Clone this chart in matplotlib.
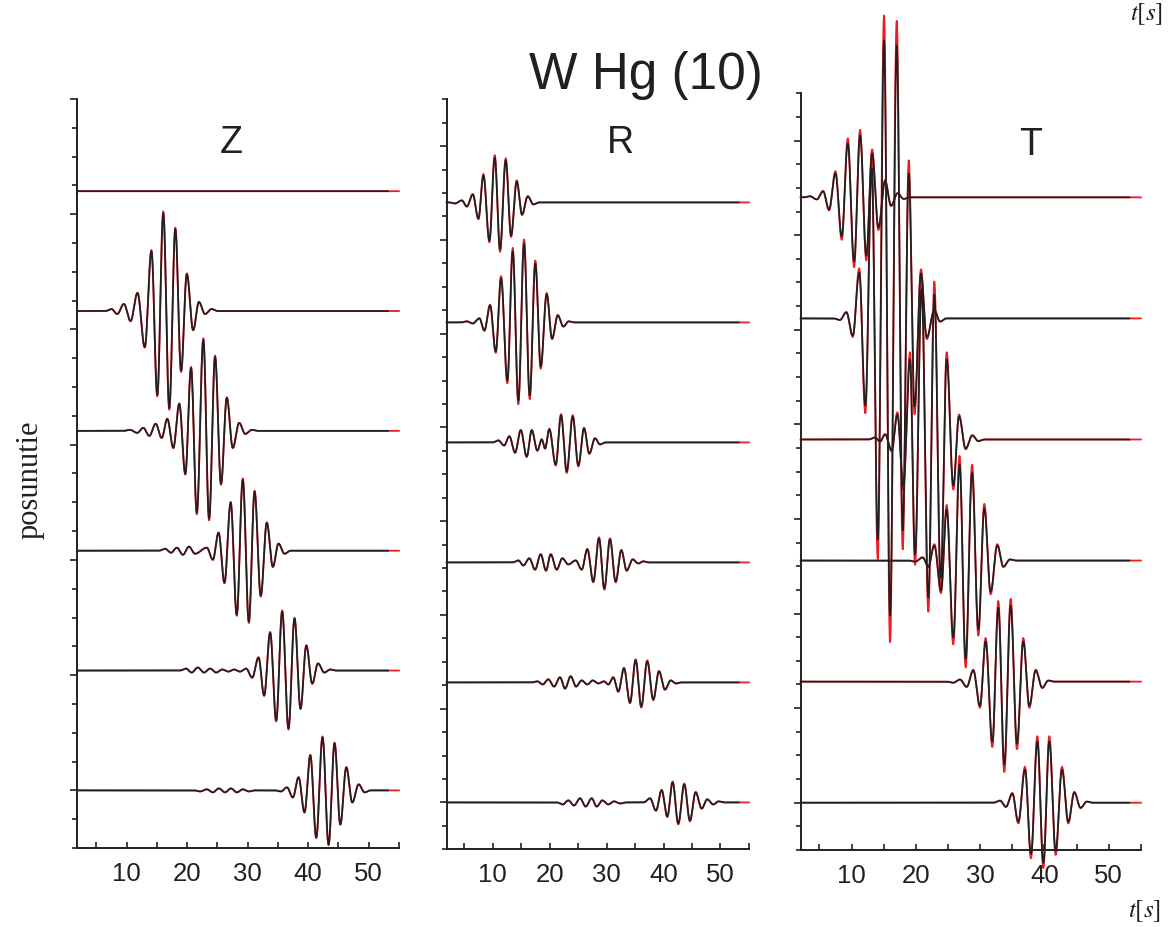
import numpy as np
import matplotlib
matplotlib.use("Agg")
import matplotlib.pyplot as plt
from matplotlib.ticker import MultipleLocator, NullFormatter

plt.rcParams['font.family'] = ['Liberation Sans', 'DejaVu Sans']
plt.rcParams['mathtext.fontset'] = 'stix'

# ------------------------------------------------------------------
# Seismogram data: for every trace (top trace first) the times [s] of
# its successive extrema and the displacement at each of them.
# ------------------------------------------------------------------
Z_OFFSETS = [5.20, 4.16, 3.12, 2.08, 1.04, 0.0]
Z_TIMES = [
    [],
    [7.5, 8.45, 9.55, 10.65, 11.8, 13.0, 14.1, 15.07, 16.06, 17.05, 18.05, 19.0,
     19.95, 21.0, 21.95, 22.95, 24.05],
    [10.55, 11.75, 12.75, 13.75, 14.8, 15.8, 16.72, 17.72, 18.7, 19.7, 20.65, 21.6,
     22.68, 23.63, 24.62, 25.6, 26.56, 27.55, 28.6, 29.6, 30.7],
    [16.35, 17.35, 18.3, 19.3, 20.3, 21.3, 23.25, 24.25, 25.2, 26.17, 27.2, 28.2,
     29.2, 30.2, 31.15, 32.17, 33.17, 34.17, 35.1, 36.1],
    [19.8, 20.75, 21.75, 22.8, 23.8, 24.8, 25.8, 26.8, 27.75, 28.75, 29.75, 30.75,
     31.8, 32.73, 33.72, 34.72, 35.71, 36.75, 37.75, 38.74, 39.7, 40.68, 41.63,
     42.67, 43.66],
    [22.15, 23.25, 24.25, 25.25, 26.25, 27.25, 28.2, 29.2, 30.2, 31.2, 34.6, 35.5,
     36.5, 37.48, 38.42, 39.4, 40.36, 41.34, 42.38, 43.38, 44.37, 45.32, 46.31,
     47.3, 48.34, 49.34],
]
Z_AMPS = [
    [],
    [0.017, -0.026, 0.061, -0.087, 0.156, -0.312, 0.519, -0.727, 0.848, -0.840,
     0.710, -0.519, 0.320, -0.165, 0.078, -0.026, 0.017],
    [0.009, -0.017, 0.026, -0.043, 0.061, -0.061, 0.104, -0.147, 0.234, -0.372,
     0.545, -0.710, 0.788, -0.762, 0.641, -0.459, 0.286, -0.147, 0.069, -0.026,
     0.009],
    [0.017, -0.017, 0.026, -0.035, 0.035, -0.026, 0.026, -0.078, 0.156, -0.277,
     0.416, -0.554, 0.615, -0.615, 0.511, -0.390, 0.242, -0.139, 0.061, -0.026],
    [0.017, -0.017, 0.026, -0.017, 0.017, -0.017, 0.009, -0.009, 0.009, -0.009,
     0.017, -0.061, 0.113, -0.216, 0.329, -0.433, 0.511, -0.502, 0.450, -0.329,
     0.216, -0.113, 0.061, -0.017, 0.009],
    [-0.009, 0.009, -0.017, 0.017, -0.017, 0.017, -0.017, 0.009, -0.009, 0.0, 0.0,
     -0.009, 0.026, -0.061, 0.113, -0.190, 0.303, -0.407, 0.459, -0.468, 0.407,
     -0.294, 0.199, -0.104, 0.052, -0.017],
]

R_OFFSETS = [6.40, 5.12, 3.84, 2.56, 1.28, 0.0]
R_TIMES = [
    [3.37, 4.55, 5.43, 6.48, 7.47, 8.35, 9.4, 10.34, 11.27, 12.27, 13.21, 14.2,
     15.14, 16.14, 17.12],
    [5.43, 6.48, 7.64, 8.52, 9.52, 10.52, 11.45, 12.56, 13.5, 14.49, 15.49, 16.49,
     17.47, 18.42, 19.47, 20.41, 21.41, 22.39, 23.34],
    [10.98, 11.98, 12.91, 13.91, 14.91, 15.96, 16.84, 17.83, 18.6, 19.18, 19.93,
     21.06, 21.99, 22.99, 24.04, 25.03, 26.03, 26.96, 27.96, 28.84],
    [14.49, 15.37, 16.42, 17.42, 18.42, 19.35, 20.18, 21.23, 22.22, 23.27, 24.57,
     25.62, 26.61, 27.66, 28.66, 29.6, 30.59, 31.59, 32.58, 33.52, 34.58, 35.56,
     36.44],
    [17.83, 18.77, 19.76, 20.76, 21.81, 22.69, 23.69, 24.62, 25.62, 26.61, 27.55,
     28.54, 29.54, 30.3, 31.17, 32.05, 33.05, 34.11, 35.1, 36.09, 37.14, 38.2,
     39.2, 40.25, 41.25, 42.18],
    [22.28, 23.27, 24.27, 25.32, 26.32, 27.38, 28.26, 29.24, 30.3, 31.3, 32.35,
     33.5, 36.5, 37.62, 38.67, 39.67, 40.66, 41.6, 42.59, 43.64, 44.64, 45.64,
     46.7, 47.68, 48.74, 49.68],
]
R_AMPS = [
    [-0.011, 0.021, -0.043, 0.085, -0.171, 0.288, -0.406, 0.480, -0.502, 0.448,
     -0.352, 0.224, -0.128, 0.064, -0.021],
    [0.011, -0.011, 0.043, -0.085, 0.181, -0.309, 0.470, -0.619, 0.758, -0.832,
     0.843, -0.779, 0.630, -0.470, 0.299, -0.171, 0.075, -0.043, 0.011],
    [0.021, -0.032, 0.064, -0.107, 0.128, -0.149, 0.128, -0.085, 0.032, -0.064,
     0.139, -0.235, 0.288, -0.309, 0.277, -0.245, 0.149, -0.117, 0.043, -0.021],
    [0.021, -0.032, 0.043, -0.075, 0.085, -0.085, 0.085, -0.075, 0.043, -0.021,
     0.021, -0.075, 0.139, -0.203, 0.256, -0.277, 0.245, -0.203, 0.128, -0.085,
     0.032, -0.011, 0.011],
    [0.011, -0.021, 0.032, -0.043, 0.053, -0.064, 0.064, -0.043, 0.021, -0.021,
     0.021, -0.011, 0.011, -0.021, 0.053, -0.096, 0.149, -0.213, 0.235, -0.256,
     0.224, -0.181, 0.117, -0.075, 0.021, -0.011],
    [-0.021, 0.021, -0.032, 0.043, -0.043, 0.043, -0.043, 0.021, -0.021, 0.011,
     -0.011, 0.0, 0.0, 0.043, -0.085, 0.128, -0.149, 0.213, -0.224, 0.192, -0.192,
     0.107, -0.064, 0.032, -0.021, 0.011],
]

T_OFFSETS = [6.40, 5.12, 3.84, 2.56, 1.28, 0.0]
T_TIMES = [
    [3.56, 4.6, 5.58, 6.51, 7.5, 8.48, 9.42, 10.4, 11.33, 12.3, 13.2, 14.18, 15.22,
     16.15, 17.16, 18.1],
    [8.2, 9.2, 10.2, 11.2, 12.15, 13.15, 14.08, 15.06, 15.99, 17.03, 17.96, 18.9,
     19.8, 20.8, 21.7, 22.88, 23.77],
    [13.66, 14.44, 15.22, 16.25, 17.13, 18.06, 19.1, 19.88, 20.9, 21.95, 22.88,
     23.87, 24.8, 25.83, 26.72, 27.75, 28.78, 29.7],
    [19.9, 21.07, 21.95, 22.88, 23.92, 24.8, 25.83, 26.8, 27.75, 28.75, 29.72,
     30.65, 31.64, 32.67, 33.61, 34.64],
    [25.83, 26.87, 27.91, 28.94, 29.98, 30.86, 31.9, 32.83, 33.76, 34.75, 35.73,
     36.71, 37.65, 38.64, 39.67, 40.6],
    [33.09, 34.02, 35.01, 35.94, 36.98, 37.91, 38.9, 39.83, 40.76, 41.75, 42.73,
     43.71, 44.64, 45.63, 46.57],
]
T_AMPS = [
    [0.011, -0.021, 0.063, -0.127, 0.254, -0.412, 0.571, -0.677, 0.655, -0.613,
     0.465, -0.317, 0.169, -0.085, 0.042, -0.016],
    [-0.016, 0.063, -0.180, 0.486, -0.920, 1.586, -2.336, 2.939, -3.140, 2.886,
     -2.241, 1.533, -0.930, 0.476, -0.201, 0.085, -0.032],
    [0.021, -0.021, 0.053, -0.116, 0.264, -0.486, 0.846, -1.216, 1.586, -1.670,
     1.533, -1.459, 0.846, -0.486, 0.243, -0.095, 0.042, -0.016],
    [-0.011, 0.032, -0.063, 0.159, -0.317, 0.539, -0.814, 1.015, -1.036, 0.930,
     -0.729, 0.550, -0.328, 0.159, -0.063, 0.011],
    [-0.011, 0.021, -0.053, 0.116, -0.254, 0.423, -0.634, 0.782, -0.877, 0.803,
     -0.655, 0.423, -0.254, 0.116, -0.063, 0.011],
    [0.021, -0.042, 0.095, -0.201, 0.349, -0.539, 0.645, -0.634, 0.645, -0.507,
     0.349, -0.201, 0.106, -0.053, 0.011],
]

# reference (red) record relative to the synthetic (black) one
RED_GAIN = {'Z': 1.02, 'R': 1.05, 'T': 1.09}
SYN_END = 53.2   # end of the synthetic record [s]
REF_END = 55.0   # end of the reference record [s]

RED = '#ec1c24'
BLACK = '#231f20'


def trace(t, times, amps, lead=1.0):
    """Smooth wiggle passing through the given extrema (half-cosine links)."""
    y = np.zeros_like(t)
    if len(times) == 0:
        return y
    tk = np.concatenate([[times[0] - lead], times, [times[-1] + lead]])
    ak = np.concatenate([[0.0], amps, [0.0]])
    for i in range(len(tk) - 1):
        m = (t >= tk[i]) & (t <= tk[i + 1])
        ph = (t[m] - tk[i]) / (tk[i + 1] - tk[i])
        y[m] = ak[i + 1] + (ak[i] - ak[i + 1]) * (1 + np.cos(np.pi * ph)) / 2
    return y


W, H = 1172, 927
fig = plt.figure(figsize=(W / 100, H / 100), dpi=100)


def px_axes(left, top, right, bottom):
    return fig.add_axes([left / W, 1 - bottom / H, (right - left) / W,
                         (bottom - top) / H])


panels = [
    ('Z', px_axes(77, 99, 399, 848), (1.8, 55.02), (-0.5, 6.0),
     Z_OFFSETS, Z_TIMES, Z_AMPS),
    ('R', px_axes(446.7, 99.3, 749, 849.3), (1.9, 55.02), (-0.5, 7.5),
     R_OFFSETS, R_TIMES, R_AMPS),
    ('T', px_axes(800.7, 93.3, 1141, 850), (2.1, 55.02), (-0.5, 7.5),
     T_OFFSETS, T_TIMES, T_AMPS),
]

for name, ax, xl, yl, offs, times, amps in panels:
    t_ref = np.linspace(xl[0], REF_END, 6000)
    t_syn = np.linspace(xl[0], SYN_END, 6000)
    for off, tt, aa in zip(offs, times, amps):
        aa = np.asarray(aa, float)
        tt = np.asarray(tt, float)
        ax.plot(t_ref, off + RED_GAIN[name] * trace(t_ref, tt, aa),
                color=RED, lw=1.3, clip_on=False, zorder=2)
        ax.plot(t_syn, off + trace(t_syn, tt, aa),
                color=BLACK, lw=1.25, clip_on=False, zorder=3)

    ax.set_xlim(*xl)
    ax.set_ylim(*yl)
    for s in ('top', 'right'):
        ax.spines[s].set_visible(False)
    for s in ('left', 'bottom'):
        ax.spines[s].set_linewidth(1.4)
        ax.spines[s].set_color(BLACK)
    ax.xaxis.set_major_locator(MultipleLocator(10))
    ax.xaxis.set_minor_locator(MultipleLocator(5))
    ax.yaxis.set_major_locator(MultipleLocator(1))
    ax.yaxis.set_minor_locator(MultipleLocator(0.25))
    ax.yaxis.set_major_formatter(NullFormatter())
    ax.tick_params(axis='x', which='both', direction='in', width=1.2,
                   color=BLACK, labelsize=18.5, pad=10, labelcolor=BLACK)
    ax.tick_params(axis='x', which='major', length=4)
    ax.tick_params(axis='x', which='minor', length=4)
    ax.tick_params(axis='y', which='both', direction='out', width=1.2,
                   color=BLACK)
    ax.tick_params(axis='y', which='major', length=5)
    ax.tick_params(axis='y', which='minor', length=3.5)
    ax.patch.set_visible(False)

# component letters
fig.text(231 / W, 1 - 152.7 / H, 'Z', fontsize=27, ha='center', va='baseline',
         color=BLACK)
fig.text(620 / W, 1 - 152.7 / H, 'R', fontsize=27, ha='center', va='baseline',
         color=BLACK)
fig.text(1031 / W, 1 - 155 / H, 'T', fontsize=27, ha='center', va='baseline',
         color=BLACK)

# title
fig.text(646 / W, 1 - 89 / H, 'W Hg (10)', fontsize=37, ha='center',
         va='baseline', color=BLACK)

# axis captions
fig.text(30 / W, 1 - 480 / H, 'posunutie', fontsize=22, rotation=90,
         ha='center', va='center', family=['Liberation Serif', 'DejaVu Serif'],
         color=BLACK)
fig.text(1145 / W, 1 - 911 / H, r'$t[s]$', fontsize=18, ha='center',
         va='center', color=BLACK)
fig.text(1147 / W, 1 - 1 / H, r'$t[s]$', fontsize=18, ha='center',
         va='top', color=BLACK)

fig.savefig('out.png', dpi=100)
